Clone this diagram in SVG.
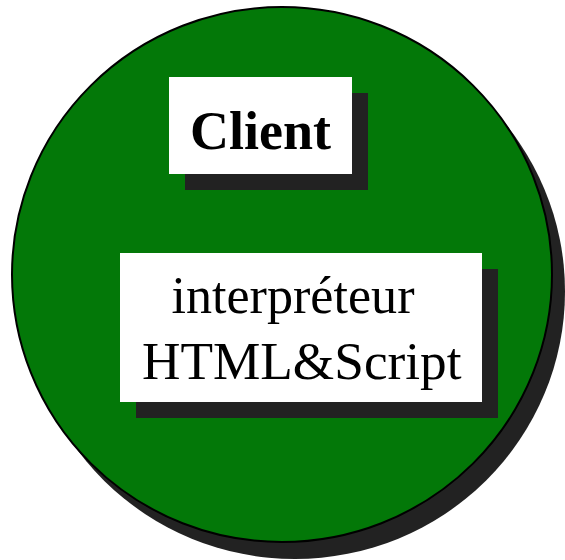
<svg xmlns="http://www.w3.org/2000/svg" width="565" height="560" viewBox="0 0 565 560">
  <style>
    .shadow { fill: #222222; }
    .box { fill: #ffffff; }
    .label { font-family: "Liberation Serif", "Times New Roman", serif; fill: #000000; }
  </style>
  <rect width="565" height="560" fill="#ffffff"/>
  <g id="client-sphere">
    <ellipse class="shadow" cx="295" cy="291.5" rx="270" ry="267.5"/>
    <ellipse cx="282" cy="274.5" rx="270" ry="267.5" fill="#037808" stroke="#000000" stroke-width="2"/>
  </g>
  <g id="client-title">
    <rect class="shadow" x="185" y="93" width="183" height="97"/>
    <rect class="box" x="169" y="77" width="183" height="97"/>
    <text class="label" x="260.5" y="149" font-size="54" font-weight="bold" text-anchor="middle">Client</text>
  </g>
  <g id="interpreter">
    <rect class="shadow" x="136" y="269" width="362" height="149"/>
    <rect class="box" x="120" y="253" width="362" height="149"/>
    <text class="label" x="171.5" y="313" font-size="53" textLength="243" lengthAdjust="spacingAndGlyphs">interpréteur</text>
    <text class="label" x="142" y="379" font-size="53" textLength="319.5" lengthAdjust="spacingAndGlyphs">HTML&amp;Script</text>
  </g>
  <g id="connectors"/>
</svg>
